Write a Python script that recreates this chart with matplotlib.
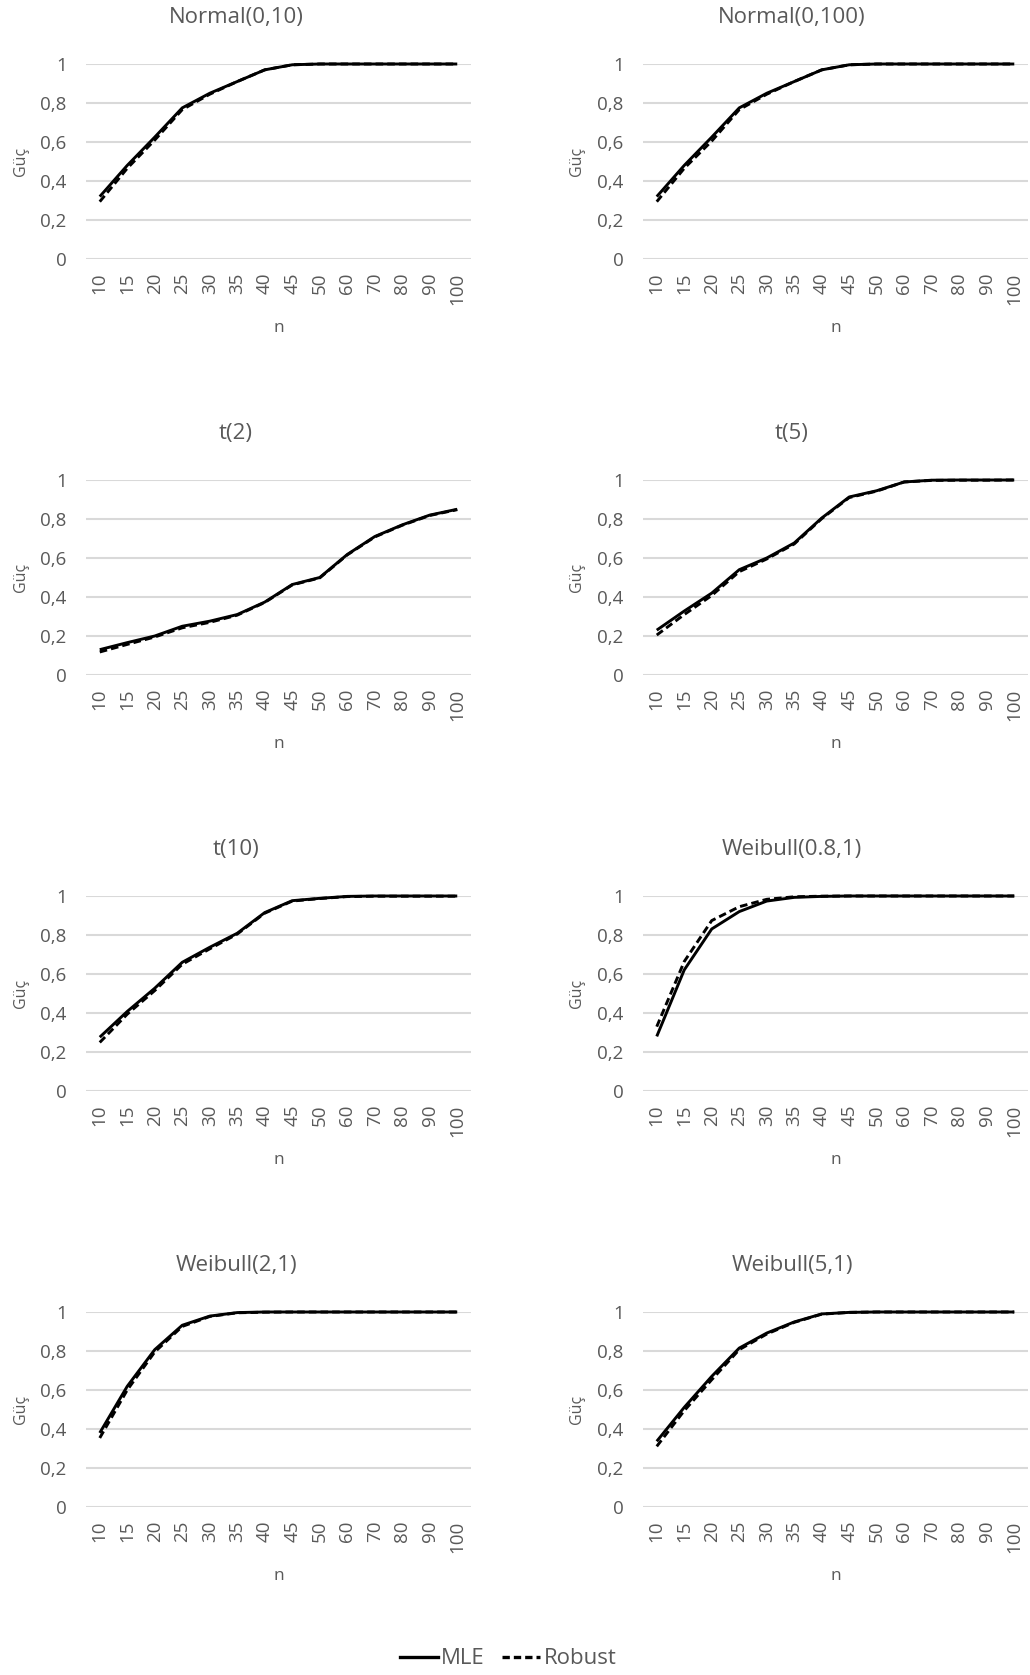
import matplotlib
matplotlib.use("Agg")
import matplotlib.pyplot as plt
from matplotlib.lines import Line2D

plt.rcParams['font.family'] = ['Open Sans', 'DejaVu Sans']

# Sample sizes (categorical x axis)
n_values = ["10", "15", "20", "25", "30", "35", "40", "45", "50", "60", "70", "80", "90", "100"]

titles = ["Normal(0,10)", "Normal(0,100)", "t(2)", "t(5)",
          "t(10)", "Weibull(0.8,1)", "Weibull(2,1)", "Weibull(5,1)"]

# Power of the MLE-based test
mle_normal_10 = [0.32, 0.48, 0.625, 0.775, 0.85, 0.91, 0.97, 0.996, 1, 1, 1, 1, 1, 1]
mle_normal_100 = [0.32, 0.48, 0.625, 0.775, 0.85, 0.91, 0.97, 0.996, 1, 1, 1, 1, 1, 1]
mle_t2 = [0.13, 0.166, 0.20, 0.25, 0.276, 0.31, 0.374, 0.464, 0.50, 0.618, 0.71, 0.77, 0.82, 0.85]
mle_t5 = [0.23, 0.328, 0.42, 0.54, 0.60, 0.677, 0.805, 0.913, 0.945, 0.99, 0.999, 1, 1, 1]
mle_t10 = [0.276, 0.408, 0.527, 0.66, 0.737, 0.809, 0.915, 0.976, 0.988, 0.998, 1, 1, 1, 1]
mle_weibull_08 = [0.28, 0.621, 0.831, 0.92, 0.974, 0.993, 0.998, 1, 1, 1, 1, 1, 1, 1]
mle_weibull_2 = [0.38, 0.619, 0.807, 0.932, 0.979, 0.997, 1, 1, 1, 1, 1, 1, 1, 1]
mle_weibull_5 = [0.337, 0.511, 0.67, 0.815, 0.892, 0.949, 0.99, 0.998, 1, 1, 1, 1, 1, 1]

# Power of the robust test
rob_normal_10 = [0.294, 0.465, 0.61, 0.766, 0.845, 0.91, 0.97, 0.996, 1, 1, 1, 1, 1, 1]
rob_normal_100 = [0.294, 0.465, 0.605, 0.766, 0.845, 0.91, 0.97, 0.996, 1, 1, 1, 1, 1, 1]
rob_t2 = [0.118, 0.157, 0.195, 0.242, 0.27, 0.307, 0.372, 0.462, 0.498, 0.616, 0.708, 0.768, 0.818, 0.848]
rob_t5 = [0.205, 0.31, 0.408, 0.53, 0.595, 0.672, 0.802, 0.91, 0.943, 0.99, 0.998, 0.999, 0.999, 1]
rob_t10 = [0.249, 0.394, 0.515, 0.65, 0.729, 0.805, 0.912, 0.974, 0.987, 0.997, 0.999, 0.999, 0.999, 0.999]
rob_weibull_08 = [0.33, 0.664, 0.874, 0.945, 0.983, 0.996, 0.999, 1, 1, 1, 1, 1, 1, 1]
rob_weibull_2 = [0.354, 0.60, 0.795, 0.926, 0.977, 0.996, 0.999, 1, 1, 1, 1, 1, 1, 1]
rob_weibull_5 = [0.311, 0.494, 0.653, 0.807, 0.887, 0.947, 0.989, 0.998, 1, 1, 1, 1, 1, 1]

mle_series = [mle_normal_10, mle_normal_100, mle_t2, mle_t5,
              mle_t10, mle_weibull_08, mle_weibull_2, mle_weibull_5]
rob_series = [rob_normal_10, rob_normal_100, rob_t2, rob_t5,
              rob_t10, rob_weibull_08, rob_weibull_2, rob_weibull_5]

y_ticks = [0, 0.2, 0.4, 0.6, 0.8, 1.0]
y_tick_labels = ["0", "0,2", "0,4", "0,6", "0,8", "1"]

W, H = 1030, 1675
fig = plt.figure(figsize=(W / 100, H / 100), dpi=100)

text_col = "#595959"
grid_col = "#d9d9d9"
dash = (0, (2.6, 1.4))

col_left = [86, 643]
col_title_x = [236, 792]
col_ylabel_x = [21, 577]
row_top = [64, 480, 896, 1312]
ax_w, ax_h = 385, 195

for i, title in enumerate(titles):
    r, c = divmod(i, 2)
    left = col_left[c]
    top = row_top[r]
    ax = fig.add_axes([left / W, 1 - (top + ax_h) / H, ax_w / W, ax_h / H])
    x = list(range(len(n_values)))
    ax.plot(x, rob_series[i], color="black", lw=2.1, ls=dash, clip_on=False, zorder=3)
    ax.plot(x, mle_series[i], color="black", lw=2.1, clip_on=False, zorder=4,
            solid_capstyle="butt")
    ax.set_xlim(-0.5, len(n_values) - 0.5)
    ax.set_ylim(0, 1)
    ax.set_yticks(y_ticks)
    ax.set_yticklabels(y_tick_labels)
    ax.set_xticks(x)
    ax.set_xticklabels(n_values, rotation=90)
    for s in ax.spines.values():
        s.set_visible(False)
    ax.grid(axis="y", color=grid_col, lw=1.5, zorder=0)
    ax.set_axisbelow(True)
    ax.tick_params(axis="both", length=0, labelsize=13.5, labelcolor=text_col)
    ax.tick_params(axis="y", pad=14)
    ax.tick_params(axis="x", pad=10)
    fig.text(col_title_x[c] / W, 1 - (top - 46) / H, title, ha="center", va="center",
             fontsize=16, color=text_col)
    fig.text(col_ylabel_x[c] / W, 1 - (top + ax_h / 2) / H, "Güç", ha="center", va="center",
             rotation=90, fontsize=11.5, color=text_col)
    fig.text((left + ax_w / 2) / W, 1 - (top + ax_h + 69) / H, "n", ha="center", va="center",
             fontsize=12.5, color=text_col)

handles = [Line2D([], [], color="black", lw=2.4),
           Line2D([], [], color="black", lw=2.4, ls=(0, (2.2, 1.2)))]
fig.legend(handles, ["MLE", "Robust"], loc="center", bbox_to_anchor=(508 / W, 1 - 1659 / H),
           ncol=2, frameon=False, fontsize=16, handlelength=1.7, handletextpad=0.15,
           columnspacing=0.8, labelcolor=text_col)

fig.savefig("out.png", dpi=100, facecolor="white")
